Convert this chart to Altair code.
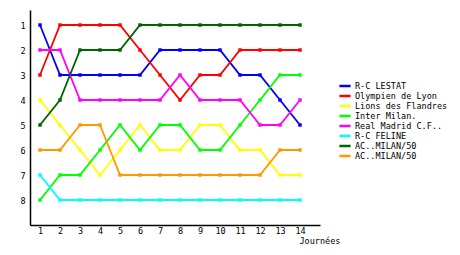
import altair as alt
import pandas as pd

days = list(range(1, 15))
teams = ["R-C LESTAT", "Olympien de Lyon", "Lions des Flandres", "Inter Milan.",
         "Real Madrid C.F..", "R-C FELINE", "AC..MILAN/50", "AC..MILAN/50 "]
colors = ["#0000ff", "#ff0000", "#ffff00", "#00ff00",
          "#ff00ff", "#00ffff", "#006400", "#ff9900"]
ranks = [
    [1, 3, 3, 3, 3, 3, 2, 2, 2, 2, 3, 3, 4, 5],
    [3, 1, 1, 1, 1, 2, 3, 4, 3, 3, 2, 2, 2, 2],
    [4, 5, 6, 7, 6, 5, 6, 6, 5, 5, 6, 6, 7, 7],
    [8, 7, 7, 6, 5, 6, 5, 5, 6, 6, 5, 4, 3, 3],
    [2, 2, 4, 4, 4, 4, 4, 3, 4, 4, 4, 5, 5, 4],
    [7, 8, 8, 8, 8, 8, 8, 8, 8, 8, 8, 8, 8, 8],
    [5, 4, 2, 2, 2, 1, 1, 1, 1, 1, 1, 1, 1, 1],
    [6, 6, 5, 5, 7, 7, 7, 7, 7, 7, 7, 7, 6, 6],
]

rows = []
for t, r in zip(teams, ranks):
    for d, v in zip(days, r):
        rows.append({"day": d, "rank": v, "team": t})
df = pd.DataFrame(rows)

FONT = "DejaVu Sans Mono"

x = alt.X("day:Q",
          scale=alt.Scale(domain=[0.5, 15], nice=False, zero=False),
          axis=alt.Axis(values=days, title="Journées", grid=False, ticks=False,
                        labelFont=FONT, labelFontSize=8.5, labelColor="black",
                        labelPadding=1, domainColor="black", domainWidth=1.5,
                        titleFont=FONT, titleFontSize=8.5, titleFontWeight="normal",
                        titleColor="black", titleAlign="left", titleAnchor="start",
                        titleX=269, titleY=18, titleBaseline="alphabetic",
                        labelFlush=False, labelOverlap=False))
y = alt.Y("rank:Q",
          scale=alt.Scale(domain=[0.4, 9], reverse=True, nice=False, zero=False),
          axis=alt.Axis(values=list(range(1, 9)), title=None, grid=False, ticks=False,
                        labelFont=FONT, labelFontSize=8.5, labelColor="black",
                        labelPadding=5, domainColor="black", domainWidth=1.5,
                        labelFlush=False, labelOverlap=False))
color = alt.Color("team:N",
                  scale=alt.Scale(domain=teams, range=colors),
                  sort=teams,
                  legend=alt.Legend(title=None, orient="none", legendX=310, legendY=71,
                                    symbolType="M-1.6,0H1.6", symbolSize=49,
                                    symbolStrokeWidth=2.5, symbolFillColor="transparent",
                                    labelFont=FONT, labelFontSize=8.5, labelColor="black",
                                    labelOffset=5, rowPadding=0, padding=0))

base = alt.Chart(df).encode(x=x, y=y, color=color)
lines = base.mark_line(strokeWidth=1.8)
points = base.mark_point(shape="square", filled=True, size=12, opacity=1)

chart = (lines + points).properties(
    width=290, height=215,
    autosize=alt.AutoSizeParams(type="none"),
    padding={"left": 30, "top": 10, "right": 140, "bottom": 30},
    background="white",
).configure_view(stroke=None)

chart.save("out.html", embed_options={"renderer": "svg", "actions": False})
